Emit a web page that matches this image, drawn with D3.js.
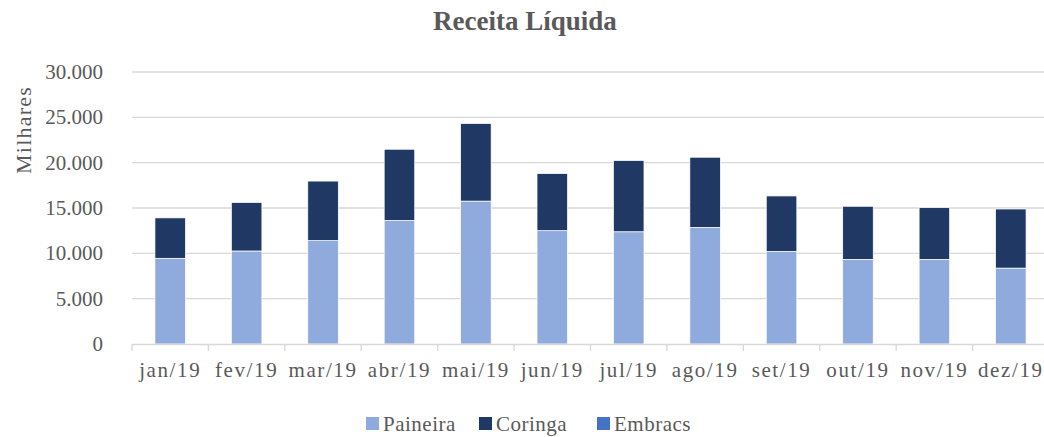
<!DOCTYPE html>
<html><head><meta charset="utf-8">
<script src="https://cdn.jsdelivr.net/npm/d3@7"></script>
<style>body{margin:0;background:#fff}svg{display:block}</style>
</head><body>
<svg id="c" width="1044" height="437"></svg>
<script>
const categories = ["jan/19","fev/19","mar/19","abr/19","mai/19","jun/19","jul/19","ago/19","set/19","out/19","nov/19","dez/19"];
const paineira = [9450,10260,11400,13620,15760,12500,12380,12860,10210,9330,9330,8370];
const coringa  = [4460,5350,6570,7860,8560,6300,7860,7740,6120,5860,5710,6520];
const embracs  = [0,0,0,0,0,0,0,0,0,0,0,0];
const seriesNames = ["Paineira","Coringa","Embracs"];
const seriesColors = ["#8faadc","#203864","#4472c4"];
const yTicks = [0,5000,10000,15000,20000,25000,30000];

(function(){
const FONT = "'Liberation Serif', 'Times New Roman', serif";
const TXT = "#595959";
const svg = d3.select("#c");
const pl = 132, pr = 1049, pt = 72, pb = 344;
const x = d3.scaleBand().domain(categories).range([pl,pr]).paddingInner(0.6).paddingOuter(0.3);
const y = d3.scaleLinear().domain([0,30000]).range([pb,pt]);
const fmt = v => v===0 ? "0" : d3.format(",")(v).replace(/,/g,".");
const styleText = s => s.style("font-family",FONT).style("fill",TXT);

svg.append("g").selectAll("line").data(yTicks.filter(d=>d>0)).join("line")
  .attr("x1",pl).attr("x2",pr).attr("y1",d=>y(d)).attr("y2",d=>y(d))
  .attr("stroke","#d9d9d9").attr("stroke-width",1.4);

svg.append("g").selectAll("text").data(yTicks).join("text")
  .attr("x",103).attr("y",d=>y(d)).attr("dy","0.33em").attr("text-anchor","end")
  .style("font-size","21px").call(styleText).text(fmt);

const rows = categories.map((c,i)=>({cat:c,Paineira:paineira[i],Coringa:coringa[i],Embracs:embracs[i]}));
const stack = d3.stack().keys(seriesNames)(rows);
svg.append("g").selectAll("g").data(stack).join("g").attr("fill",(d,i)=>seriesColors[i])
  .selectAll("rect").data(d=>d).join("rect")
  .attr("x",d=>x(d.data.cat)).attr("width",x.bandwidth())
  .attr("y",d=>y(d[1])).attr("height",d=>Math.max(0,y(d[0])-y(d[1])))
  .attr("stroke","#fff").attr("stroke-width",0.75);

svg.append("line").attr("x1",pl).attr("x2",pr).attr("y1",pb+0.5).attr("y2",pb+0.5)
  .attr("stroke","#d9d9d9").attr("stroke-width",1.4);
const step = x.step();
svg.append("g").selectAll("line").data(d3.range(categories.length+1)).join("line")
  .attr("x1",i=>pl+i*step).attr("x2",i=>pl+i*step).attr("y1",pb).attr("y2",pb+7)
  .attr("stroke","#d9d9d9").attr("stroke-width",1.4);

svg.append("g").selectAll("text").data(categories).join("text")
  .attr("x",d=>x(d)+x.bandwidth()/2).attr("y",377).attr("text-anchor","middle")
  .style("font-size","21px").style("letter-spacing","1.6px").call(styleText).text(d=>d);

svg.append("text").attr("x",525).attr("y",30).attr("text-anchor","middle")
  .style("font-size","27px").style("font-weight","bold").call(styleText).text("Receita Líquida");

svg.append("text").attr("transform","translate(31,130) rotate(-90)").attr("text-anchor","middle")
  .style("font-size","22px").style("letter-spacing","1.2px").call(styleText).text("Milhares");

const legX = [366,479,597];
const lg = svg.append("g").selectAll("g").data(seriesNames).join("g")
  .attr("transform",(d,i)=>`translate(${legX[i]},431)`);
lg.append("rect").attr("x",0).attr("y",-14).attr("width",13).attr("height",13).attr("fill",(d,i)=>seriesColors[i]);
lg.append("text").attr("x",17).attr("y",0).style("font-size","21px").style("letter-spacing","0.5px").call(styleText).text(d=>d);
})();
</script>
</body></html>
